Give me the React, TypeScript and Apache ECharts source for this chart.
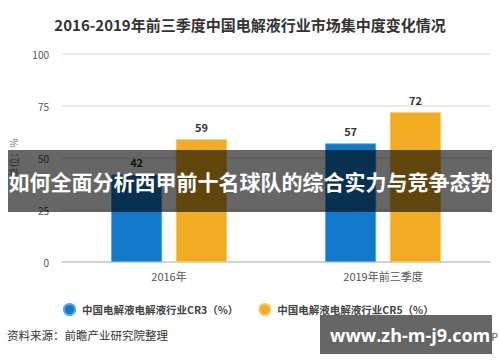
import React, { useEffect, useRef } from "react";
import * as echarts from "echarts";

const title = "2016-2019年前三季度中国电解液行业市场集中度变化情况";
const categories = ["2016年", "2019年前三季度"];
const seriesNames = ["中国电解液电解液行业CR3（%）", "中国电解液电解液行业CR5（%）"];
const cr3 = [42, 57];
const cr5 = [59, 72];
const yMin = 0;
const yMax = 100;
const yInterval = 25;
const yName = "单位：%";
const sourceText = "资料来源：前瞻产业研究院整理";
const creditText = "@前瞻经济学人APP";
const bannerText = "如何全面分析西甲前十名球队的综合实力与竞争态势";
const watermarkText = "www.zh-m-j9.com";

const FONT = "'Noto Sans CJK SC', 'Microsoft YaHei', sans-serif";

export default function App() {
  const ref = useRef<HTMLDivElement>(null);
  useEffect(() => {
    if (!ref.current) return;
    const chart = echarts.init(ref.current, null, { renderer: "svg" });
    chart.setOption({
      animation: false,
      backgroundColor: "#ffffff",
      textStyle: { fontFamily: FONT },
      title: {
        text: title,
        left: "center",
        top: 12,
        textStyle: { fontSize: 15, fontWeight: "bold", color: "#333", fontFamily: FONT },
      },
      legend: {
        data: seriesNames,
        left: 58,
        top: 298,
        icon: "circle",
        itemWidth: 11,
        itemHeight: 11,
        itemGap: 20,
        textStyle: { fontSize: 10.5, fontWeight: "bold", color: "#444", padding: [0, 0, 0, 2] },
      },
      grid: { left: 59, right: 10, top: 54, bottom: 100 },
      xAxis: {
        type: "category",
        data: categories,
        axisLine: { lineStyle: { color: "#cccccc", width: 1.5 } },
        axisTick: { alignWithLabel: true, length: 4, lineStyle: { color: "#999" } },
        axisLabel: { fontSize: 11, color: "#555", margin: 8 },
      },
      yAxis: {
        type: "value",
        min: yMin,
        max: yMax,
        interval: yInterval,
        name: yName,
        nameLocation: "middle",
        nameRotate: 90,
        nameGap: 44,
        nameTextStyle: { fontSize: 10, color: "#777" },
        axisLine: { show: false },
        axisTick: { show: false },
        axisLabel: { fontSize: 10, color: "#555", margin: 13 },
        splitLine: { lineStyle: { color: "#e4e4e4", width: 1.5 } },
      },
      series: [
        {
          name: seriesNames[0],
          type: "bar",
          data: cr3,
          barWidth: 51,
          barGap: "27%",
          itemStyle: { color: "#1479c8", borderColor: "#5aa5e0", borderWidth: 0.8 },
          label: { show: true, position: "top", distance: 7, fontSize: 11, fontWeight: "bold", color: "#333" },
        },
        {
          name: seriesNames[1],
          type: "bar",
          data: cr5,
          barWidth: 51,
          barGap: "27%",
          itemStyle: { color: "#f0ac22", borderColor: "#f7c860", borderWidth: 0.8 },
          label: { show: true, position: "top", distance: 7, fontSize: 11, fontWeight: "bold", color: "#333" },
        },
      ],
      graphic: [
        {
          type: "text",
          left: 7,
          top: 329,
          style: { text: sourceText, fontSize: 11.5, fill: "#333", fontFamily: FONT },
        },
        {
          type: "text",
          right: 2,
          top: 331,
          z: 50,
          style: { text: creditText, fontSize: 10.5, fill: "#555", fontFamily: FONT },
        },
        {
          type: "rect",
          left: 320,
          top: 315,
          z: 60,
          shape: { width: 172, height: 39 },
          style: { fill: "rgba(90,90,90,0.93)" },
        },
        {
          type: "text",
          left: 330,
          top: 326,
          z: 61,
          style: { text: watermarkText, fontSize: 18, fontWeight: "bold", fill: "#ffffff", fontFamily: "'Open Sans', 'Noto Sans', sans-serif" },
        },
        {
          type: "rect",
          left: 8,
          top: 150,
          z: 100,
          shape: { width: 484, height: 62 },
          style: { fill: "rgba(0,0,0,0.6)" },
        },
        {
          type: "text",
          left: "center",
          top: 170,
          z: 101,
          style: { text: bannerText, fontSize: 21, fontWeight: "bold", fill: "#ffffff", fontFamily: FONT },
        },
      ],
    });
    return () => chart.dispose();
  }, []);
  return (
    <div
      ref={ref}
      style={{ position: "absolute", left: 0, top: 0, width: 500, height: 362 }}
    />
  );
}
